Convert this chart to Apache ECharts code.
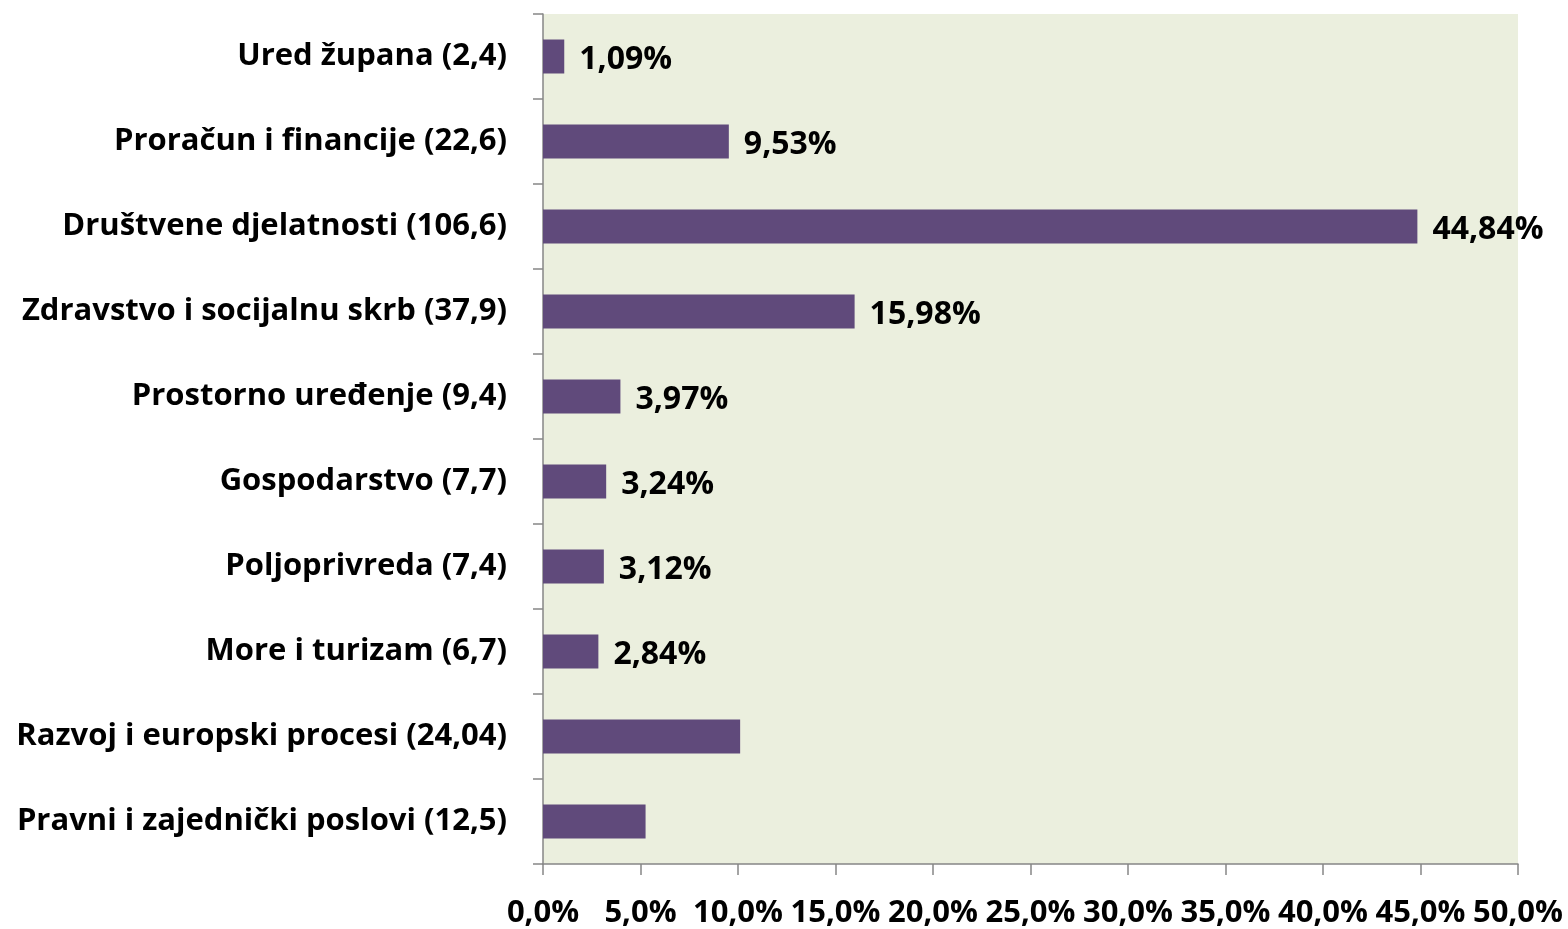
<!DOCTYPE html>
<html>
<head>
<meta charset="utf-8">
<script src="https://cdn.jsdelivr.net/npm/echarts@6/dist/echarts.min.js"></script>
<style>
  html, body { margin: 0; padding: 0; background: #fff; }
  #main { width: 1568px; height: 929px; }
</style>
</head>
<body>
<div id="main"></div>
<script>
// kategorije odozgo prema dolje
const categories = [
  'Ured župana (2,4)',
  'Proračun i financije (22,6)',
  'Društvene djelatnosti (106,6)',
  'Zdravstvo i socijalnu skrb (37,9)',
  'Prostorno uređenje (9,4)',
  'Gospodarstvo (7,7)',
  'Poljoprivreda (7,4)',
  'More i turizam (6,7)',
  'Razvoj i europski procesi (24,04)',
  'Pravni i zajednički poslovi (12,5)'
]
const shares = [1.09, 9.53, 44.84, 15.98, 3.97, 3.24, 3.12, 2.84, 10.11, 5.26]
const showLabel = [true, true, true, true, true, true, true, true, false, false]
const xTicks = [0, 5, 10, 15, 20, 25, 30, 35, 40, 45, 50]

const font = '"Open Sans", Lato, sans-serif'
const axisGray = '#868686'

let myChart = echarts.init(document.getElementById('main'))

const option = {
  animation: false,
  grid: { left: 543, right: 50, top: 14, bottom: 64, containLabel: false,
    show: true, backgroundColor: '#EBEFDE', borderWidth: 0 },
  xAxis: {
    type: 'value',
    min: xTicks[0],
    max: xTicks[xTicks.length - 1],
    interval: 5,
    splitLine: { show: false },
    axisLine: { show: true, lineStyle: { color: axisGray, width: 1.5 } },
    axisTick: { show: true, length: 11, lineStyle: { color: axisGray, width: 1.5 } },
    axisLabel: {
      margin: 34,
      color: '#000',
      fontFamily: font,
      fontWeight: 'bold',
      fontSize: 31,
      formatter: v => v.toFixed(1).replace('.', ',') + '%'
    }
  },
  yAxis: {
    type: 'category',
    inverse: true,
    data: categories,
    axisLine: { show: true, lineStyle: { color: axisGray, width: 1.5 } },
    axisTick: { show: true, length: 10, lineStyle: { color: axisGray, width: 1.5 } },
    axisLabel: {
      margin: 36,
      padding: [6, 0, 0, 0],
      color: '#000',
      fontFamily: font,
      fontWeight: 'bold',
      fontSize: 31
    }
  },
  series: [{
    type: 'bar',
    barWidth: 34,
    itemStyle: { color: '#604A7B' },
    data: shares.map((v, i) => ({ value: v, label: { show: showLabel[i] } })),
    label: {
      position: 'right',
      distance: 15,
      offset: [0, 3],
      color: '#000',
      fontFamily: font,
      fontWeight: 'bold',
      fontSize: 32,
      formatter: p => p.value.toFixed(2).replace('.', ',') + '%'
    }
  }]
}

myChart.setOption(option)
</script>
</body>
</html>
